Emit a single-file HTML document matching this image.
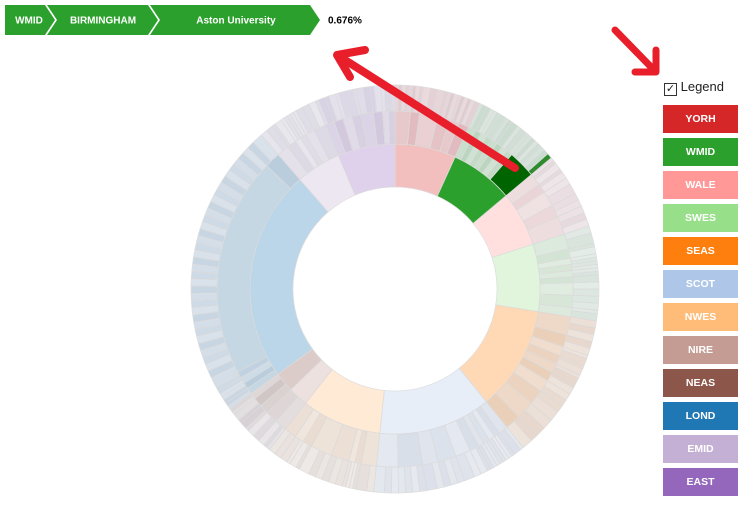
<!DOCTYPE html>
<html><head><meta charset="utf-8">
<style>
body{margin:0;width:748px;height:505px;background:#fff;font-family:"Liberation Sans",sans-serif;overflow:hidden;position:relative}
#legend-box{position:absolute;left:663px;top:105px}
.lg{width:75px;height:28px;margin-bottom:5px;color:#fff;font-size:10.5px;font-weight:bold;text-align:center;line-height:28px}
</style></head><body>
<svg id="crumbs" width="400" height="40" style="position:absolute;left:0;top:0">
<polygon points="5,5 45,5 55,20 45,35 5,35" fill="#2ca02c"/>
<text x="29" y="23.5" fill="#fff" font-size="10" font-weight="bold" text-anchor="middle" font-family="Liberation Sans">WMID</text>
<polygon points="47,5 148,5 158,20 148,35 47,35 57,20" fill="#2ca02c"/>
<text x="103" y="23.5" fill="#fff" font-size="10" font-weight="bold" text-anchor="middle" font-family="Liberation Sans">BIRMINGHAM</text>
<polygon points="150,5 310,5 320,20 310,35 150,35 160,20" fill="#2ca02c"/>
<text x="236" y="23.5" fill="#fff" font-size="10" font-weight="bold" text-anchor="middle" font-family="Liberation Sans">Aston University</text>
<text x="328" y="23.5" fill="#000" font-size="10" font-weight="bold" font-family="Liberation Sans">0.676%</text>
</svg>
<svg id="chart" width="748" height="505" style="position:absolute;left:0;top:0"></svg>
<div style="position:absolute;left:664px;top:79px;font-size:13px;color:#222">
<span style="display:inline-block;width:11px;height:11px;border:1px solid #333;vertical-align:-1px;font-size:11px;line-height:11px;text-align:center">✓</span> Legend</div>
<div id="legend-box"></div>
<svg width="748" height="505" style="position:absolute;left:0;top:0;pointer-events:none">
<line x1="515" y1="168" x2="345" y2="60" stroke="#e81e2a" stroke-width="8" stroke-linecap="round"/>
<polyline points="365,50 337,55 350,77" fill="none" stroke="#e81e2a" stroke-width="8" stroke-linecap="round" stroke-linejoin="round"/>
<line x1="615" y1="30" x2="652" y2="68" stroke="#e81e2a" stroke-width="7" stroke-linecap="round"/>
<polyline points="656,50 656,72 635,72" fill="none" stroke="#e81e2a" stroke-width="7" stroke-linecap="round" stroke-linejoin="round"/>
</svg>
<script>
const regions=["YORH","WMID","WALE","SWES","SEAS","SCOT","NWES","NIRE","NEAS","LOND","EMID","EAST"];
const regionColors=["#d62728","#2ca02c","#ff9896","#98df8a","#ff7f0e","#aec7e8","#ffbb78","#c49c94","#8c564b","#1f77b4","#c5b0d5","#9467bd"];
const regionValues=[24.5,25.5,22,27,42,45,32,8,8,85,18,23];
const childValues=[
[5,3,6,4,3,3.5],
[2.5,2,2,2,2,2,2,2,9],
[4,3,5,4,6],
[5,3,2,2,2,2,4,4,3],
[6,4,3,3,3,3,4,5,6,5],
[3,2,2,2,2,3,5,6,5,8,7],
[5,2,2,6,7,3,3,4],
[4,4],
[3,3,2],
[2,2,2,2,70,5],
[4,3,2,2,3,4],
[3,3,3,3,4,3,2,2]];
const grandValues=[
[[1,1,1,1,1],[1,1,1],[2,2,2],[1,1,1,1],[1,1,1],[1,1,1.5]],
[[1,1.5],[1,1],[1,1],[1],[1,1],[1],[1,1],[1,1],[1.2,1.2,1.1,1.2,1.3,1.5,1.5]],
[[1,1,2],[1,2],[2,3],[2,2],[2,2,2]],
[[2,3],[1,2],[1,1],[1,1],[1,1],[2],[2,2],[2,2],[1,2]],
[[2,2,2],[2,2],[1,2],[1,2],[1,2],[1,2],[2,2],[2,3],[3,3],[2,3]],
[[1,2],[1,1],[1,1],[1,1],[1,1],[1,2],[2,3],[2,2,2],[2,3],[2,2,2,2],[2,2,3]],
[[2,3],[1,1],[1,1],[2,2,2],[2,2,3],[1,2],[1,2],[2,2]],
[[1,1,2],[2,2]],
[[1,2],[1,2],[1,1]],
[[1,1],[1,1],[1,1],[1,1],[2,2,2,2,2,2,2,2,2,2,2,2,2,2,2,2,2,2,2,2,2,2,2,2,2,2,2,2,2,2,2,2,2,2,2],[2,3]],
[[2,2],[1,2],[1,1],[1,1],[1,2],[2,2]],
[[1,2],[1,2],[1,2],[2,1],[2,2],[1,2],[1,1],[1,1]]];
const path=[1,8,6]; // WMID > BIRMINGHAM > Aston University
const cx=395,cy=289,R=[102,145,178,204];
const svg=document.getElementById('chart');
const NS="http://www.w3.org/2000/svg";
const total=regionValues.reduce((a,b)=>a+b,0);
const ang=v=>v/total*2*Math.PI;
function mix(c,g,t){
 const h=s=>[1,3,5].map(i=>parseInt(s.substr(i,2),16));
 const A=h(c),B=h(g);
 return 'rgb('+A.map((v,i)=>Math.round(v*(1-t)+B[i]*t)).join(',')+')';
}
function arc(a0,a1,r0,r1){
 const p=(a,r)=>[cx+r*Math.sin(a),cy-r*Math.cos(a)];
 const l=a1-a0>Math.PI?1:0;
 const [x0,y0]=p(a0,r1),[x1,y1]=p(a1,r1),[x2,y2]=p(a1,r0),[x3,y3]=p(a0,r0);
 return `M${x0},${y0}A${r1},${r1} 0 ${l} 1 ${x1},${y1}L${x2},${y2}A${r0},${r0} 0 ${l} 0 ${x3},${y3}Z`;
}
function draw(a0,a1,r0,r1,fill,op,name){
 const e=document.createElementNS(NS,'path');
 e.setAttribute('d',arc(a0,a1,r0,r1));
 e.setAttribute('fill',fill);e.setAttribute('fill-opacity',op);
 e.setAttribute('stroke','#ddd');e.setAttribute('stroke-width','0.7');
 
 
 svg.appendChild(e);
}
const ops=[0.32,0.4,0.28,0.36];
let a=0;
regions.forEach((r,i)=>{
 const span=ang(regionValues[i]);
 const hi=i===path[0];
 draw(a,a+span,R[0],R[1],regionColors[i],hi?1:0.3,'arc-'+r.toLowerCase());
 const cs=childValues[i].reduce((x,y)=>x+y,0);
 let b=a;
 childValues[i].forEach((cv,j)=>{
  const cspan=span*cv/cs;
  const chi=hi&&j===path[1];
  draw(b,b+cspan,R[1],R[2],chi?"#006400":mix(regionColors[i],"#8a8fa0",0.45),chi?1:ops[j%4],'arc-'+r.toLowerCase()+'-child');
  const g=grandValues[i][j];const gs=g.reduce((x,y)=>x+y,0);
  let c=b;
  g.forEach((gv,k)=>{
   const gspan=cspan*gv/gs;
   const ghi=chi&&k===path[2];
   draw(c,c+gspan,R[2],R[3],ghi?"#2e8b2e":mix(regionColors[i],"#8a8fa8",0.6),ghi?1:ops[(k+j)%4]*0.85,'arc-'+r.toLowerCase()+'-leaf');
   c+=gspan;
  });
  b+=cspan;
 });
 a+=span;
});
const lb=document.getElementById('legend-box');
regions.forEach((r,i)=>{
 const d=document.createElement('div');
 d.className='lg';d.style.background=regionColors[i];d.textContent=r;
 
 
 lb.appendChild(d);
});
</script>
</body></html>
